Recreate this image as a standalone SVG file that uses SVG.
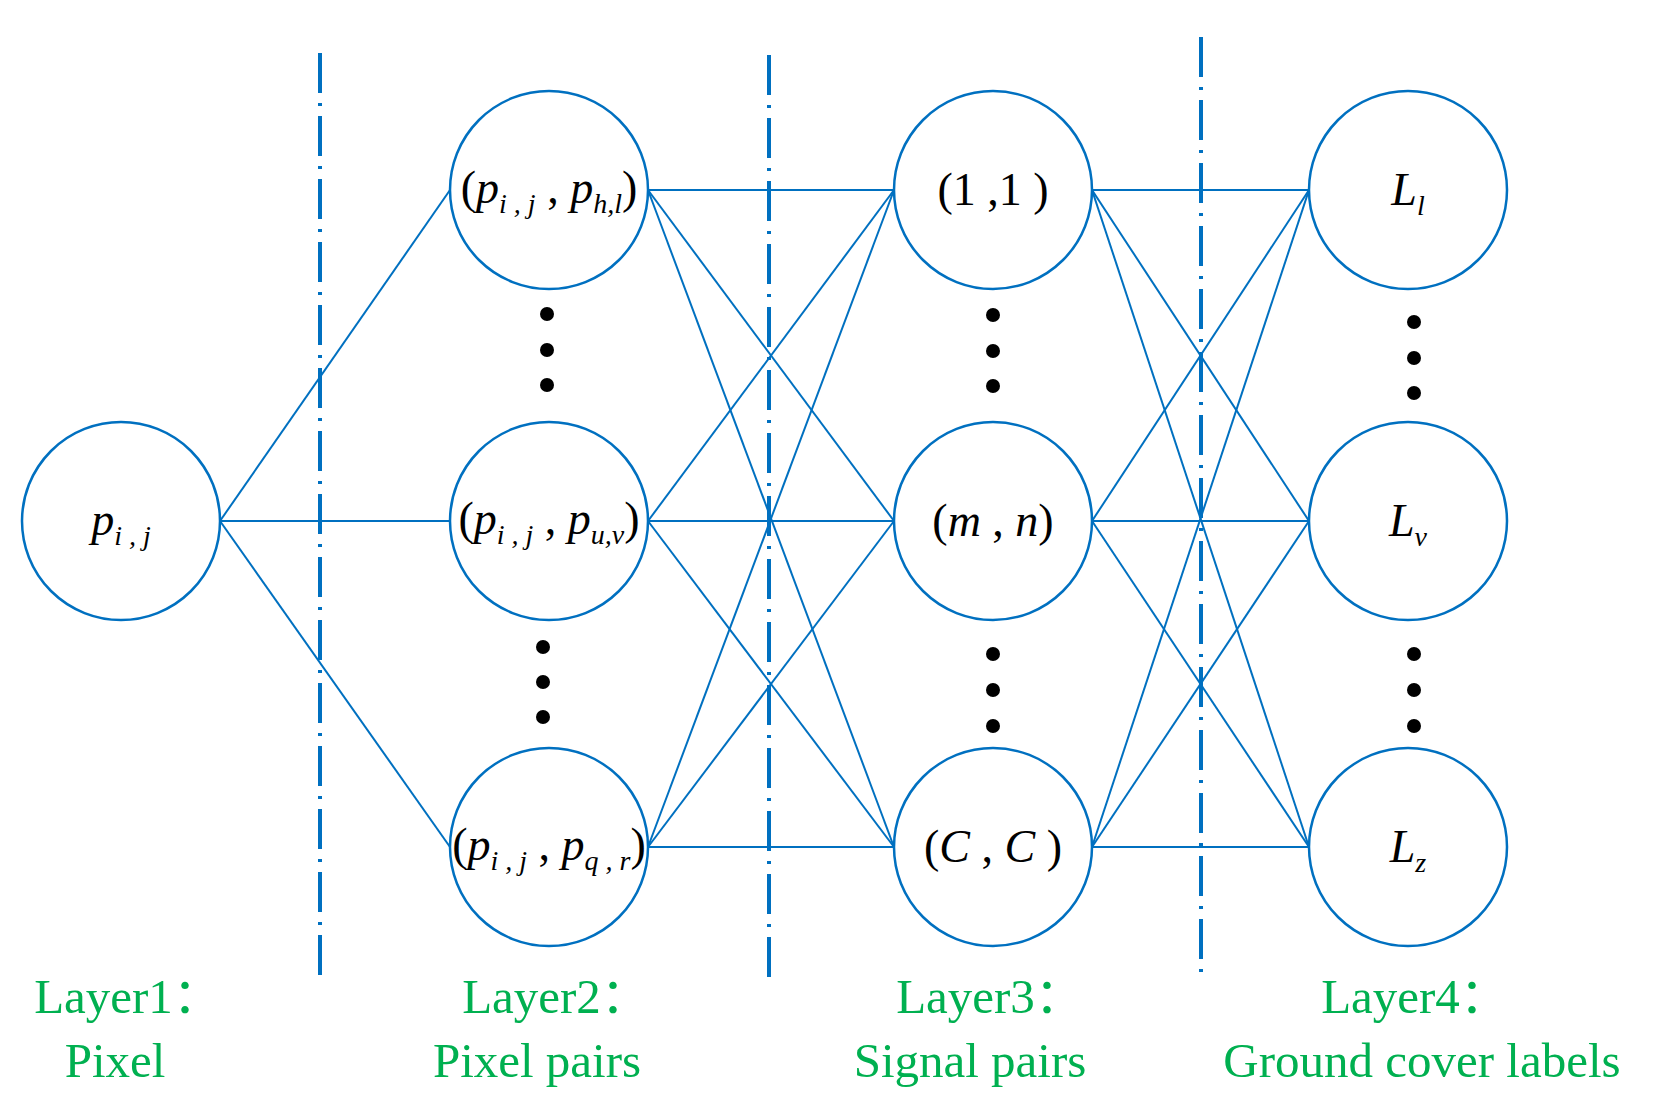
<svg xmlns="http://www.w3.org/2000/svg" width="1662" height="1117" viewBox="0 0 1662 1117">
<style>
.n{fill:#fff;stroke:#0070C0;stroke-width:2.5}
.c line{stroke:#0070C0;stroke-width:2}
.d{stroke:#0070C0;stroke-width:4;stroke-dasharray:40 10 3 10;fill:none}
.t{font-family:"Liberation Serif",serif;font-size:46px;fill:#000;text-anchor:middle}
.i{font-style:italic}
.s{font-size:28px;font-style:italic}
.g{font-family:"Liberation Serif","Noto Sans CJK SC",serif;font-size:49px;fill:#00B050;text-anchor:middle}
.dot{fill:#000}
</style>
<g id="dividers">
<line class="d" x1="320" y1="53" x2="320" y2="975"/>
<line class="d" x1="769" y1="55" x2="769" y2="978"/>
<line class="d" x1="1201" y1="37" x2="1201" y2="978"/>
</g>
<g class="c" id="connectors">
<line x1="220" y1="521" x2="450" y2="190"/>
<line x1="220" y1="521" x2="450" y2="521"/>
<line x1="220" y1="521" x2="450" y2="847"/>
<line x1="648" y1="190" x2="894" y2="190"/><line x1="648" y1="190" x2="894" y2="521"/><line x1="648" y1="190" x2="894" y2="847"/>
<line x1="648" y1="521" x2="894" y2="190"/><line x1="648" y1="521" x2="894" y2="521"/><line x1="648" y1="521" x2="894" y2="847"/>
<line x1="648" y1="847" x2="894" y2="190"/><line x1="648" y1="847" x2="894" y2="521"/><line x1="648" y1="847" x2="894" y2="847"/>
<line x1="1092" y1="190" x2="1309" y2="190"/><line x1="1092" y1="190" x2="1309" y2="521"/><line x1="1092" y1="190" x2="1309" y2="847"/>
<line x1="1092" y1="521" x2="1309" y2="190"/><line x1="1092" y1="521" x2="1309" y2="521"/><line x1="1092" y1="521" x2="1309" y2="847"/>
<line x1="1092" y1="847" x2="1309" y2="190"/><line x1="1092" y1="847" x2="1309" y2="521"/><line x1="1092" y1="847" x2="1309" y2="847"/>
</g>
<g id="n1"><circle class="n" cx="121" cy="521" r="99"/><text class="t" x="121" y="535"><tspan class="i">p</tspan><tspan class="s" dy="10">i , j</tspan></text></g>
<g id="n2a"><circle class="n" cx="549" cy="190" r="99"/><text class="t" x="549" y="203">(<tspan class="i">p</tspan><tspan class="s" dy="10">i , j</tspan><tspan dy="-10"> , </tspan><tspan class="i">p</tspan><tspan class="s" dy="10">h,l</tspan><tspan dy="-10">)</tspan></text></g>
<g id="n2b"><circle class="n" cx="549" cy="521" r="99"/><text class="t" x="549" y="534">(<tspan class="i">p</tspan><tspan class="s" dy="10">i , j</tspan><tspan dy="-10"> , </tspan><tspan class="i">p</tspan><tspan class="s" dy="10">u,v</tspan><tspan dy="-10">)</tspan></text></g>
<g id="n2c"><circle class="n" cx="549" cy="847" r="99"/><text class="t" x="549" y="860">(<tspan class="i">p</tspan><tspan class="s" dy="10">i , j</tspan><tspan dy="-10"> , </tspan><tspan class="i">p</tspan><tspan class="s" dy="10">q , r</tspan><tspan dy="-10">)</tspan></text></g>
<g id="n3a"><circle class="n" cx="993" cy="190" r="99"/><text class="t" x="993" y="205">(1 ,1 )</text></g>
<g id="n3b"><circle class="n" cx="993" cy="521" r="99"/><text class="t" x="993" y="536">(<tspan class="i">m</tspan> , <tspan class="i">n</tspan>)</text></g>
<g id="n3c"><circle class="n" cx="993" cy="847" r="99"/><text class="t" x="993" y="862">(<tspan class="i">C</tspan> , <tspan class="i">C</tspan> )</text></g>
<g id="n4a"><circle class="n" cx="1408" cy="190" r="99"/><text class="t" x="1408" y="205"><tspan class="i">L</tspan><tspan class="s" dy="10">l</tspan></text></g>
<g id="n4b"><circle class="n" cx="1408" cy="521" r="99"/><text class="t" x="1408" y="536"><tspan class="i">L</tspan><tspan class="s" dy="10">v</tspan></text></g>
<g id="n4c"><circle class="n" cx="1408" cy="847" r="99"/><text class="t" x="1408" y="862"><tspan class="i">L</tspan><tspan class="s" dy="10">z</tspan></text></g>
<g id="ellipsis">
<circle class="dot" cx="547" cy="314" r="7"/><circle class="dot" cx="547" cy="350" r="7"/><circle class="dot" cx="547" cy="385" r="7"/>
<circle class="dot" cx="543" cy="647" r="7"/><circle class="dot" cx="543" cy="682" r="7"/><circle class="dot" cx="543" cy="717" r="7"/>
<circle class="dot" cx="993" cy="315" r="7"/><circle class="dot" cx="993" cy="351" r="7"/><circle class="dot" cx="993" cy="386" r="7"/>
<circle class="dot" cx="993" cy="654" r="7"/><circle class="dot" cx="993" cy="690" r="7"/><circle class="dot" cx="993" cy="726" r="7"/>
<circle class="dot" cx="1414" cy="322" r="7"/><circle class="dot" cx="1414" cy="358" r="7"/><circle class="dot" cx="1414" cy="393" r="7"/>
<circle class="dot" cx="1414" cy="654" r="7"/><circle class="dot" cx="1414" cy="690" r="7"/><circle class="dot" cx="1414" cy="726" r="7"/>
</g>
<g id="labels">
<text class="g" x="128" y="1013">Layer1：</text><text class="g" x="115" y="1077">Pixel</text>
<text class="g" x="556" y="1013">Layer2：</text><text class="g" x="537" y="1077">Pixel pairs</text>
<text class="g" x="990" y="1013">Layer3：</text><text class="g" x="970" y="1077">Signal pairs</text>
<text class="g" x="1415" y="1013">Layer4：</text><text class="g" x="1422" y="1077">Ground cover labels</text>
</g>
</svg>
